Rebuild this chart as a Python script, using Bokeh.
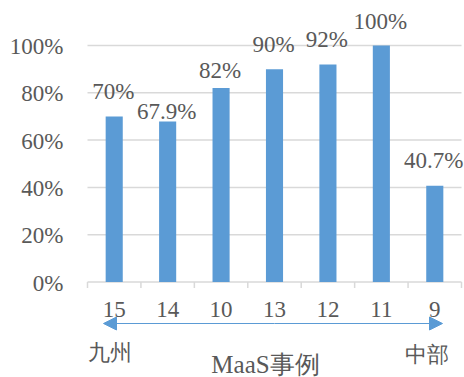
from bokeh.plotting import figure
from bokeh.models import ColumnDataSource, Range1d, Arrow, NormalHead
from bokeh.core.properties import value
from bokeh.embed import file_html
from bokeh.resources import INLINE

# data
cases = ["15", "14", "10", "13", "12", "11", "9"]
rates = [0.70, 0.679, 0.82, 0.90, 0.92, 1.00, 0.407]
rate_labels = ["70%", "67.9%", "82%", "90%", "92%", "100%", "40.7%"]
y_ticks = [0, 0.2, 0.4, 0.6, 0.8, 1.0]
y_tick_labels = ["0%", "20%", "40%", "60%", "80%", "100%"]
left_end = "九州"
right_end = "中部"
x_title = "MaaS事例"

# label lifts above bar tops (px), as placed in the original
label_lift = [25, 10, 18, 25, 25, 24, 25]

FONT = "Liberation Serif"
TXT = "#595959"
BLUE = "#5b9bd5"
GRID = "#d9d9d9"
FS = "23px"

n = len(cases)
xs = [i + 0.5 for i in range(n)]
src = ColumnDataSource(dict(x=xs, top=rates, lab=rate_labels,
                            dy=[-d for d in label_lift]))

W, H = 464, 377
PX = 236.5          # pixels per 100%
ZERO = 281.5        # pixel row of 0%
LEFT = 87           # pixel column of the category axis start
CW = 374 / n        # pixels per category

def dx(px):
    return (px - LEFT) / CW

def dy(py):
    return (ZERO - py) / PX

p = figure(width=W, height=H, output_backend="svg", toolbar_location=None,
           x_range=Range1d(dx(0), dx(W)), y_range=Range1d(dy(H), dy(0)))
p.min_border = 0
p.outline_line_color = None
p.xaxis.visible = False
p.yaxis.visible = False
p.grid.visible = False

# value gridlines and labels
p.segment(x0=[0] * len(y_ticks), y0=y_ticks[:], x1=[n] * len(y_ticks), y1=y_ticks[:],
          line_color=GRID, line_width=1.5)
p.text(x=[dx(63)] * len(y_ticks), y=y_ticks, text=y_tick_labels, y_offset=1,
       text_align="right", text_baseline="middle", text_font=value(FONT),
       text_font_size=FS, text_color=TXT)

p.vbar(x="x", top="top", width=0.32, bottom=0, source=src,
       fill_color=BLUE, line_color=None)

# category axis: boundary tick marks, labels
p.segment(x0=list(range(n + 1)), y0=[0] * (n + 1), x1=list(range(n + 1)),
          y1=[-6 / PX] * (n + 1), line_color=GRID, line_width=1.5)
p.text(x=xs, y=[0] * n, text=cases, y_offset=27, text_align="center",
       text_baseline="middle", text_font=value(FONT), text_font_size=FS,
       text_color=TXT)

# data labels
p.text(x="x", y="top", text="lab", y_offset="dy", x_offset=-1, source=src,
       text_align="center", text_baseline="middle",
       text_font=value(FONT), text_font_size=FS, text_color=TXT)

# direction arrow
arr_y = dy(323)
for tip in [103, 442]:
    p.add_layout(Arrow(x_start=n / 2, x_end=dx(tip), y_start=arr_y, y_end=arr_y,
                       line_color=BLUE, line_width=1.2,
                       end=NormalHead(size=13, fill_color=BLUE, line_color=BLUE)))

p.text(x=[dx(109), dx(426)], y=[dy(352), dy(354)],
       text=[left_end, right_end], text_align="center",
       text_baseline="middle", text_font=value(FONT), text_font_size="22px",
       text_color=TXT)
p.text(x=[dx(265)], y=[dy(364)], text=[x_title], text_align="center",
       text_baseline="middle", text_font=value(FONT), text_font_size="25px",
       text_color=TXT)

open("out.html", "w").write(file_html(p, INLINE))
